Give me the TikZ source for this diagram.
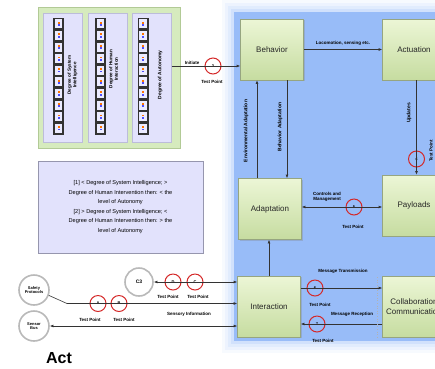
\documentclass[tikz,border=0pt]{standalone}
\usepackage{fontspec}
\setmainfont{Liberation Sans}
\usetikzlibrary{arrows.meta,shadows}

\definecolor{bluebg}{RGB}{152,188,248}
\definecolor{boxtop}{RGB}{236,246,214}
\definecolor{boxbot}{RGB}{198,220,160}
\definecolor{boxedge}{RGB}{150,165,128}
\definecolor{panelgreen}{RGB}{214,235,190}
\definecolor{paneledge}{RGB}{178,202,150}
\definecolor{lavender}{RGB}{226,226,252}
\definecolor{lavedge}{RGB}{188,188,218}
\definecolor{tpred}{RGB}{212,40,40}
\definecolor{extgray}{RGB}{185,185,185}

\begin{document}
\begin{tikzpicture}[x=1pt,y=-1pt,
  blk/.style={draw=boxedge, line width=0.6pt, top color=boxtop, bottom color=boxbot,
    minimum width=63pt, minimum height=61pt, inner sep=0pt, align=center,
    font=\fontsize{8}{9.5}\selectfont, text=black!85,
    drop shadow={opacity=0.3, shadow xshift=1.2pt, shadow yshift=-1.2pt}},
  colbox/.style={draw=lavedge, line width=0.6pt, fill=lavender, minimum width=39pt,
    minimum height=129pt, inner sep=0pt},
  coltext/.style={rotate=90, align=center, inner sep=0pt,
    font=\fontsize{4.6}{5.4}\selectfont\bfseries},
  tp/.style={circle, draw=tpred, line width=1pt, minimum size=16pt, inner sep=0pt,
    font=\fontsize{4}{4}\selectfont\bfseries},
  tplab/.style={inner sep=0pt, font=\fontsize{4.5}{5}\selectfont\bfseries},
  lbl/.style={inner sep=0pt, align=center, font=\fontsize{4.5}{5}\selectfont\bfseries},
  vlbl/.style={lbl, rotate=90, font=\fontsize{5}{5.5}\selectfont\bfseries},
  ext/.style={circle, draw=extgray, line width=1.6pt, fill=white, minimum size=30pt,
    inner sep=0pt, align=center, font=\fontsize{4}{4.5}\selectfont\bfseries},
  ln/.style={draw=black!80, line width=0.6pt},
  arr/.style={ln, -{Latex[length=3.5pt,width=2.8pt]}},
  arrb/.style={ln, {Latex[length=3.5pt,width=2.8pt]}-{Latex[length=3.5pt,width=2.8pt]}}
]
\useasboundingbox (0,0) rectangle (435,368);

% blue workspace with a soft edge
\foreach \d/\o in {12/0.08,9/0.1,6/0.14,3/0.22}{
  \fill[bluebg,opacity=\o] (234-\d,12-\d) rectangle (450,341+\d);
}
\fill[bluebg] (234,12) rectangle (450,341);

% degree panel
\node[draw=paneledge, line width=0.8pt, fill=panelgreen, minimum width=142pt,
  minimum height=141pt, inner sep=0pt] (grn) at (109,77.5) {};
\node[colbox] (c1) at (62.5,77.5) {};
\node[colbox] (c2) at (107.5,77.5) {};
\node[colbox] (c3) at (152,77.5) {};

% scales of small cells
\foreach \cx in {58.5,100.5,143}{
  \fill[black!80] (\cx-5.5,18) rectangle (\cx+5.5,135);
  \foreach \i in {0,...,9}{
    \fill[white!92!blue] (\cx-3.9,19.4+\i*11.6) rectangle (\cx+3.9,28.4+\i*11.6);
    \fill[orange!90!red] (\cx-1,21.8+\i*11.6) rectangle (\cx+1,23.6+\i*11.6);
    \fill[blue!70] (\cx-1,24.2+\i*11.6) rectangle (\cx+1,26.0+\i*11.6);
  }
}
\node[coltext] (t1) at (72.5,75) {Degree of System\\Intelligence};
\node[coltext] (t2) at (113.5,69) {Degree of Human\\Interaction};
\node[coltext, font=\fontsize{4.9}{5.4}\selectfont\bfseries] (t3) at (160,75) {Degree of Autonomy};

% note
\node[draw=lavedge!80!black, line width=0.6pt, fill=lavender, minimum width=165pt,
  minimum height=92pt, inner sep=0pt, align=center,
  font=\fontsize{5.6}{9.6}\selectfont] (note) at (120.5,207)
  {[1] < Degree of System Intelligence; >\\
   Degree of Human Intervention then: < the\\
   level of Autonomy\\
   {[2]} > Degree of System Intelligence; <\\
   Degree of Human Intervention then: > the\\
   level of Autonomy};

% functional blocks
\node[blk] (beh) at (272,49.5) {Behavior};
\node[blk] (act) at (414,49.5) {Actuation};
\node[blk] (ada) at (270,209) {Adaptation};
\node[blk] (pay) at (414,205.5) {Payloads};
\node[blk] (int) at (269,306.5) {Interaction};
\node[blk] (col) at (414,306.5) {Collaboration\\Communication};

% external parties
\node[ext] (saf) at (34,290) {Safety\\Protocols};
\node[ext] (sen) at (34,326) {Sensor\\Bus};
\node[ext, minimum size=28pt, font=\fontsize{5}{5}\selectfont\bfseries] (cc) at (139,282) {C3};

% test points
\node[tp] (tpI) at (213,66) {3};
\node[tp] (tpU) at (416.5,159) {4};
\node[tp] (tpC) at (354,207) {5};
\node[tp] (tpT) at (315,288) {6};
\node[tp] (tpR) at (317,324) {7};
\node[tp] (tpA) at (98,303.5) {A};
\node[tp] (tpB) at (119,303.5) {B};
\node[tp] (tpD) at (173,282) {D};
\node[tp] (tpE) at (195,282) {C};

\coordinate (xe) at (257,0);
\coordinate (xb) at (287,0);
\coordinate (xi) at (269,0);
\coordinate (sbend) at (67,303.5);

% connectors
\draw[arr] (c3.east |- tpI) -- (tpI -| beh.west);
\draw[arr] (beh) -- (act);
\draw[arr] (ada.north -| xe) -- (beh.south -| xe);
\draw[arr] (beh.south -| xb) -- (ada.north -| xb);
\draw[arr] (act.south -| tpU) -- (pay.north -| tpU);
\draw[arrb] (ada.east |- tpC) -- (pay.west |- tpC);
\draw[arr] (int.north -| xi) -- (ada.south -| xi);
\draw[arr] (int.east |- tpT) -- (col.west |- tpT);
\draw[arr] (col.west |- tpR) -- (int.east |- tpR);
\draw[arrb] (cc.east) -- (int.west |- cc);
\draw[arr] (saf.-20) -- (sbend) -- (int.west |- sbend);
\draw[arrb] (sen.east) -- (int.west |- sen);
\draw[black!30, dotted, line width=0.6pt] (377,277) -- (377,337);

% labels
\node[lbl] (lI) at (192,63) {Initiate};
\node[tplab] (lI2) at (212,82) {Test Point};
\node[lbl] (lLoc) at (343,43.5) {Locomotion, sensing etc.};
\node[vlbl] (lEnv) at (246,131) {Environmental Adaptation};
\node[vlbl] (lBeh) at (280,127) {Behavior Adaptation};
\node[vlbl] (lUpd) at (409,113) {Updates};
\node[tplab, rotate=90] (lU2) at (431,151) {Test Point};
\node[lbl] (lCtl) at (327,197) {Controls and\\Management};
\node[tplab] (lC2) at (353,227) {Test Point};
\node[lbl] (lMT) at (343,271) {Message Transmission};
\node[tplab] (lT2) at (320,305) {Test Point};
\node[lbl] (lMR) at (352,314) {Message Reception};
\node[tplab] (lR2) at (323,341) {Test Point};
\node[tplab] (lA2) at (90,320) {Test Point};
\node[tplab] (lB2) at (124,320) {Test Point};
\node[tplab] (lD2) at (168,297) {Test Point};
\node[tplab] (lE2) at (198,297) {Test Point};
\node[lbl] (lSI) at (189,314) {Sensory Information};
\node[inner sep=0pt, font=\fontsize{16}{16}\selectfont\bfseries] (actlbl) at (59,358) {Act};
\end{tikzpicture}
\end{document}
